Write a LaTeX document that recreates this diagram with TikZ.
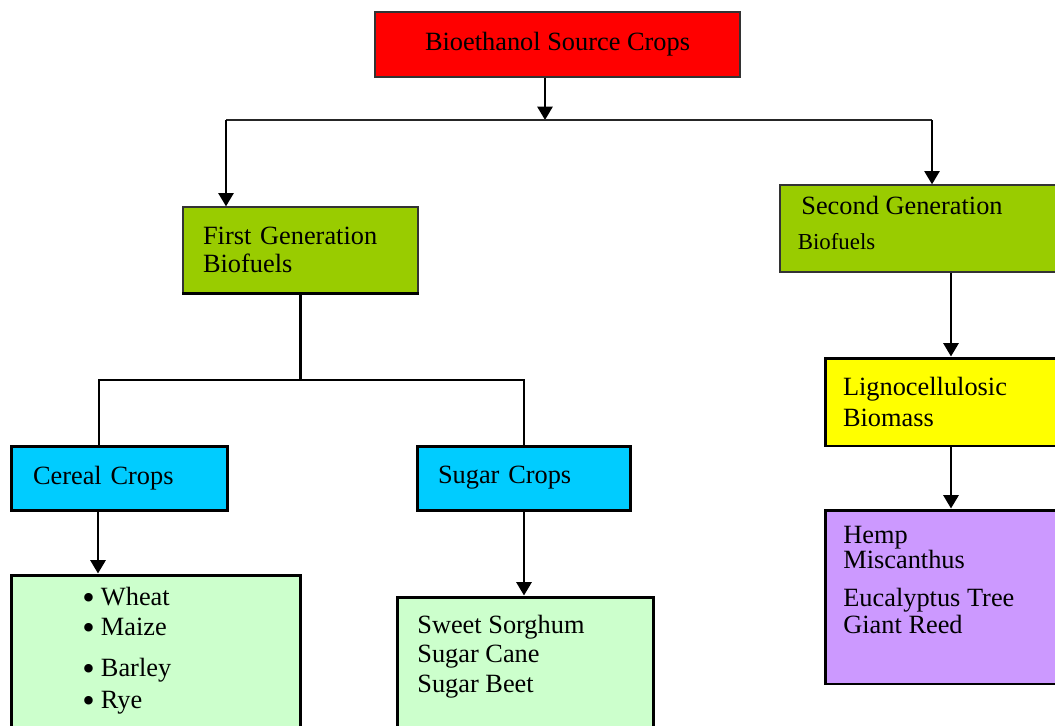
\documentclass[tikz,border=0pt]{standalone}
\usepackage{fontspec}
\setmainfont{Liberation Serif}
\usepackage{tikz}
\usetikzlibrary{arrows.meta,positioning}

\definecolor{topred}{HTML}{FF0000}
\definecolor{genegreen}{HTML}{99CC00}
\definecolor{cropcyan}{HTML}{00CCFF}
\definecolor{listgreen}{HTML}{CCFFCC}
\definecolor{lignoyellow}{HTML}{FFFF00}
\definecolor{plantviolet}{HTML}{CC99FF}
\newcommand\cropbullet{\smash{\raisebox{-2.3pt}{\scalebox{1.35}{\textbullet}}}\hspace{3.5pt}}

\begin{document}
\begin{tikzpicture}[x=0.02cm,y=-0.02cm,>={Triangle[length=7.6pt,width=8.5pt]},
  font=\fontsize{15}{16}\selectfont,
  box/.style={draw,line width=1.7pt,inner ysep=0pt,align=left},
  thinbox/.style={box,line width=0.7pt,draw=black!80},
  listtext/.style={anchor=north west,inner sep=0pt,align=left},
  conn/.style={line width=1.6pt}]
\clip (0,0) rectangle (1055,725);
\fill[white] (0,0) rectangle (1055,725);

% boxes
\node[thinbox,fill=topred,align=center,minimum width=7.3cm,minimum height=1.3cm] (top) at (557.5,44.5) {Bioethanol Source Crops};
\node[thinbox,fill=genegreen,minimum width=4.7cm,minimum height=1.72cm,inner xsep=0.4cm,text width=3.9cm] (gen1) at (300.5,250) {First Generation\\Biofuels};
\node[thinbox,fill=genegreen,minimum width=5.7cm,minimum height=1.74cm] (gen2) at (922.5,228.5) {};
\node[box,fill=cropcyan,minimum width=4.34cm,minimum height=1.28cm,inner xsep=0.44cm,text width=3.46cm] (cereal) at (119.5,478) {Cereal Crops};
\node[box,fill=cropcyan,minimum width=4.28cm,minimum height=1.28cm,inner xsep=0.42cm,text width=3.44cm] (sugar) at (524,478) {Sugar Crops};
\node[box,fill=lignoyellow,minimum width=5.04cm,minimum height=1.76cm,inner xsep=0.36cm,text width=4.32cm] (ligno) at (951,402) {Lignocellulosic\\[1.8pt]Biomass};
\node[box,fill=listgreen,minimum width=5.8cm,minimum height=3.4cm] (clist) at (156,660) {};
\node[box,fill=listgreen,minimum width=5.14cm,minimum height=2.96cm] (slist) at (525.5,671) {};
\node[box,fill=plantviolet,minimum width=5.04cm,minimum height=3.48cm] (plants) at (951,597) {};
\draw[line width=1.7pt] (gen1.south west) -- (gen1.south east);

% texts set apart from their boxes
\node[listtext] (gen2text) at (801,196) {Second Generation\\[3.9pt]\hspace{-2pt}{\fontsize{13}{16}\selectfont Biofuels}};
\node[listtext,font=\fontsize{15}{17.2}\selectfont] (clisttext) at (82,587) {\cropbullet Wheat\\\cropbullet Maize\\[6pt]\cropbullet Barley\\[0.8pt]\cropbullet Rye};
\node[listtext] (slisttext) at (417,615) {Sweet Sorghum\\[0.7pt]Sugar Cane\\[0.7pt]Sugar Beet};
\node[listtext] (plantstext) at (843,526) {Hemp\\[-1.6pt]Miscanthus\\[5.2pt]Eucalyptus Tree\\[-0.5pt]Giant Reed};

% connectors
\coordinate (bus1) at (226,120);
\coordinate (bus2) at (932,120);
\coordinate (forkrow) at (0,380);
\coordinate (fork) at (gen1.south |- forkrow);
\draw[conn,->] ([xshift=-0.25cm]top.south) -- ([xshift=-0.25cm]top.south |- bus1);
\draw[conn,line width=1.2pt,black!85] (bus1) -- (bus2);
\draw[conn,->] (bus1) -- (bus1 |- gen1.north);
\draw[conn,->] (bus2) -- (bus2 |- gen2.north);
\draw[conn] (gen1.south) -- (fork) -| ([xshift=-0.41cm]cereal.north);
\draw[conn] (fork) -| (sugar.north);
\draw[conn,->] ([xshift=-0.43cm]cereal.south) -- ([xshift=-0.43cm]cereal.south |- clist.north);
\draw[conn,->] (sugar.south) -- (sugar.south |- slist.north);
\draw[conn,->] (ligno.north |- gen2.south) -- (ligno.north);
\draw[conn,->] (ligno) -- (plants);
\end{tikzpicture}
\end{document}
